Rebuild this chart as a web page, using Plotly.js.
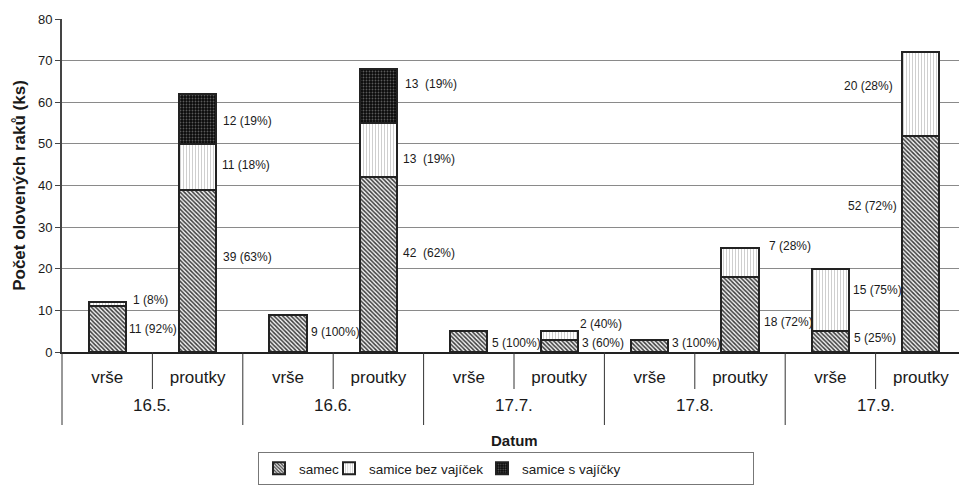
<!DOCTYPE html>
<html>
<head>
<meta charset="utf-8">
<script src="https://cdn.plot.ly/plotly-3.0.1.min.js"></script>
<style>
html, body { margin: 0; padding: 0; overflow: hidden; background: #fff; }
#chart { width: 970px; height: 488px; }
</style>
</head>
<body>
<div id="chart"></div>
<script>
// ---- data ----
var dates = ['16.5.', '16.6.', '17.7.', '17.8.', '17.9.'];
var gears = ['vrše', 'proutky'];
var samec = [11, 39, 9, 42, 5, 3, 3, 18, 5, 52];
var samiceBez = [1, 11, 0, 13, 0, 2, 0, 7, 15, 20];
var samiceS = [0, 12, 0, 13, 0, 0, 0, 0, 0, 0];
var labelsSamec = ['11 (92%)', '39 (63%)', '9 (100%)', '42  (62%)', '5 (100%)', '3 (60%)', '3 (100%)', '18 (72%)', '5 (25%)', '52 (72%)'];
var labelsBez = ['1 (8%)', '11 (18%)', '', '13  (19%)', '', '2 (40%)', '', '7 (28%)', '15 (75%)', '20 (28%)'];
var labelsS = ['', '12 (19%)', '', '13  (19%)', '', '', '', '', '', ''];
var seriesNames = ['samec', 'samice bez vajíček', 'samice s vajíčky'];
var yTitle = 'Počet olovených raků (ks)';
var xTitle = 'Datum';

// ---- label placement tweaks (px) ----
var nudgeSamec = { dx: [1, 5, 2, 4, 3, 2, 2, 3, 3, 3], dy: [0, 14, 1, 12, -1, 3, 3, -7, 4, 38] };
var nudgeBez = { dx: [5, 4, 0, 4, 0, 0, 0, 8, 2, 7], dy: [4, 2, 0, -9, 0, 11, 0, 17, 10, 8] };
var nudgeS = { dx: [0, 5, 0, 6, 0, 0, 0, 0, 0, 0], dy: [0, -2, 0, 12, 0, 0, 0, 0, 0, 0] };

var cats = [];
var tickText = [];
dates.forEach(function (d) {
  gears.forEach(function (g) { cats.push(d + ' ' + g); tickText.push(g); });
});

var W = 970, H = 488;
var mL = 62, mR = 4, mT = 19, mB = 136;
var plotW = W - mL - mR, plotH = H - mT - mB;
var bargap = 0.59;
var halfBar = (1 - bargap) * plotW / cats.length / 2;
var txt = '#1a1a1a';
var font = 'Arial, "Liberation Sans", sans-serif';

var lineStyle = { color: '#222', width: 2 };
var traces = [
  { name: seriesNames[0], y: samec, legendwidth: 25,
    marker: { color: '#9a9a9a', line: lineStyle,
      pattern: { shape: '\\', fgcolor: '#3c3c3c', bgcolor: '#f2f2f2', size: 3, solidity: 0.5 } } },
  { name: seriesNames[1], y: samiceBez, legendwidth: 108,
    marker: { color: '#f2f2f2', line: lineStyle,
      pattern: { shape: '|', fgcolor: '#cfcfcf', bgcolor: '#ffffff', size: 3, solidity: 0.35 } } },
  { name: seriesNames[2], y: samiceS, legendwidth: 226,
    marker: { color: '#111', line: lineStyle,
      pattern: { shape: '.', fgcolor: '#5a5a5a', bgcolor: '#0a0a0a', size: 3, solidity: 0.3 } } }
].map(function (t) {
  return Object.assign({ type: 'bar', x: cats, hoverinfo: 'x+y+name' }, t);
});

var annotations = [];
function addLabels(vals, base, labels, nudge) {
  vals.forEach(function (v, i) {
    if (!v || !labels[i]) return;
    var mid = base[i] + v / 2;
    var last = (i === cats.length - 1);
    annotations.push({
      x: cats[i], y: mid, xref: 'x', yref: 'y',
      text: labels[i].replace(/  /g, ' \u00a0'),
      showarrow: false,
      xanchor: last ? 'right' : 'left',
      yanchor: 'middle',
      xshift: last ? -(halfBar + nudge.dx[i]) : (halfBar + nudge.dx[i]),
      yshift: nudge.dy[i],
      font: { family: font, size: 12, color: txt }
    });
  });
}
var zeros = samec.map(function () { return 0; });
var base2 = samec.slice();
var base3 = samec.map(function (v, i) { return v + samiceBez[i]; });
addLabels(samec, zeros, labelsSamec, nudgeSamec);
addLabels(samiceBez, base2, labelsBez, nudgeBez);
addLabels(samiceS, base3, labelsS, nudgeS);

// date (outer level) labels
dates.forEach(function (d, k) {
  annotations.push({
    x: 2 * k + 0.5, y: -(405 - (mT + plotH)) / plotH, xref: 'x', yref: 'paper',
    text: d, showarrow: false, xanchor: 'center', yanchor: 'middle',
    font: { family: font, size: 17, color: txt }
  });
});
annotations.push({
  x: 0.5, y: -(440 - (mT + plotH)) / plotH, xref: 'paper', yref: 'paper',
  text: '<b>' + xTitle + '</b>', showarrow: false, xanchor: 'center', yanchor: 'middle',
  font: { family: font, size: 15, color: txt }
});

// category separators below the axis
var shapes = [];
var outerLen = (425 - (mT + plotH)) / plotH;
var innerLen = (389 - (mT + plotH)) / plotH;
for (var k = 0; k <= dates.length; k++) {
  shapes.push({ type: 'line', xref: 'paper', yref: 'paper', x0: k / dates.length, x1: k / dates.length,
    y0: 0, y1: -outerLen, line: { color: '#333', width: 1 } });
}
for (var j = 0; j < dates.length; j++) {
  var xm = (2 * j + 1) / cats.length;
  shapes.push({ type: 'line', xref: 'paper', yref: 'paper', x0: xm, x1: xm,
    y0: 0, y1: -innerLen, line: { color: '#333', width: 1 } });
}

var layout = {
  width: W, height: H,
  margin: { l: mL, r: mR, t: mT, b: mB },
  paper_bgcolor: '#fff', plot_bgcolor: '#fff',
  barmode: 'stack', bargap: bargap,
  font: { family: font, color: txt },
  showlegend: true,
  legend: {
    orientation: 'h', x: (258 - mL) / plotW, xanchor: 'left',
    yref: 'container', y: 1 - 452 / H, yanchor: 'top',
    bordercolor: '#777', borderwidth: 1, bgcolor: '#fff',
    font: { family: font, size: 13.5, color: txt },
    itemwidth: 30, tracegroupgap: 0, traceorder: 'normal'
  },
  xaxis: {
    type: 'category', tickmode: 'array', tickvals: cats, ticktext: tickText,
    ticks: '', showgrid: false, showline: true, linecolor: '#222', linewidth: 1.5,
    tickfont: { family: font, size: 17, color: txt }, ticklabelstandoff: 9,
    automargin: false, fixedrange: true
  },
  yaxis: {
    range: [0, 80], dtick: 10, tick0: 0,
    showgrid: true, gridcolor: '#8a8a8a', gridwidth: 1,
    zeroline: false, showline: true, linecolor: '#444', linewidth: 2,
    ticks: 'outside', ticklen: 5, tickcolor: '#444', tickwidth: 1,
    tickfont: { family: font, size: 13, color: txt },
    title: { text: '<b>' + yTitle + '</b>', font: { family: font, size: 17, color: txt }, standoff: 8 },
    automargin: false, fixedrange: true
  },
  annotations: annotations,
  shapes: shapes
};

Plotly.newPlot('chart', traces, layout, { displayModeBar: false, staticPlot: true });
</script>
</body>
</html>
